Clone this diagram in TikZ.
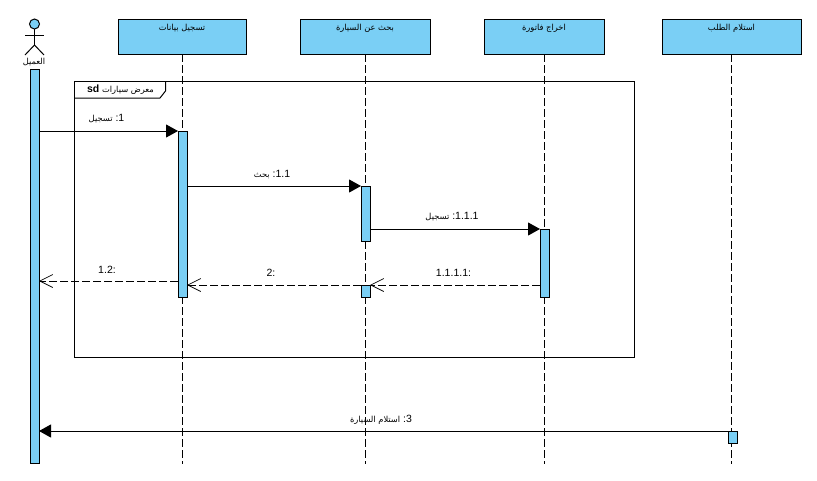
\documentclass[tikz,border=0pt]{standalone}
\usepackage{fontspec}
\usetikzlibrary{arrows.meta}
\setmainfont{Liberation Sans}
\newfontfamily\arabicfont[Script=Arabic]{DejaVu Sans}
\TeXXeTstate=1
\newcommand{\ar}[1]{{\arabicfont\fontsize{8.3}{10}\selectfont\beginR #1\endR}}
\definecolor{lifeblue}{RGB}{122,207,245}
\tikzset{
    headbox/.style={draw, fill=lifeblue, line width=1pt, inner sep=0pt, outer sep=0pt, minimum height=35pt},
    actbar/.style={draw, fill=lifeblue, line width=1pt, inner sep=0pt, outer sep=0pt, minimum width=9pt},
    lifeline/.style={line width=1pt, dash pattern=on 8pt off 3pt},
    callmsg/.style={line width=1pt, -{Triangle[length=12pt,width=13pt]}},
    backmsg/.style={line width=1pt, dash pattern=on 8pt off 3pt, -{Straight Barb[length=13pt,width=13pt,line width=.7pt]}},
    msglabel/.style={font=\fontsize{10.5}{12}\selectfont, inner sep=0pt}
}
\begin{document}
\begin{tikzpicture}[x=1pt, y=-1pt]
    \useasboundingbox (0,0) rectangle (817,480);

    \node [headbox, minimum width=128pt] (headA) at (182, 36.5) {};
    \node [headbox, minimum width=130pt] (headB) at (365, 36.5) {};
    \node [headbox, minimum width=120pt] (headC) at (544, 36.5) {};
    \node [headbox, minimum width=139pt] (headD) at (731.5, 36.5) {};

    \node (textA) at (182, 28) {\ar{تسجيل بيانات}};
    \node (textB) at (365, 28) {\ar{بحث عن السيارة}};
    \node (textC) at (544, 28) {\ar{اخراج فاتورة}};
    \node (textD) at (731.5, 28) {\ar{استلام الطلب}};

    \coordinate (endA) at (182, 464);
    \coordinate (endB) at (365, 464);
    \coordinate (endC) at (544, 464);
    \coordinate (endD) at (731.5, 464);

    \draw [lifeline] (headA.south) -- (endA);
    \draw [lifeline] (headB.south) -- (endB);
    \draw [lifeline] (headC.south) -- (endC);
    \draw [lifeline] (headD.south) -- (endD);

    \draw [line width=1pt, fill=lifeblue] (34.5, 24) circle (5);
    \draw [line width=1pt] (34.5, 29) -- (34.5, 45) (25, 35) -- (44, 35);
    \draw [line width=1pt] (25, 55) -- (34.5, 45) -- (44, 55);
    \node (actorname) at (34, 62) {\ar{العميل}};

    \draw [line width=1pt] (74.5, 81) rectangle (634, 357);
    \draw [line width=1pt] (74.5, 98) -- (160, 98) -- (165.5, 91) -- (165.5, 81);
    \node (frametext) at (120.5, 90) {\textbf{\fontsize{10.5}{12}\selectfont sd} \ar{معرض سيارات}};

    \node [actbar, minimum height=394pt] (barA) at (34.5, 266) {};
    \node [actbar, minimum height=166pt] (barB) at (182.5, 214) {};
    \node [actbar, minimum height=55pt] (barC) at (365.5, 213.5) {};
    \node [actbar, minimum height=12pt] (barE) at (365.5, 291) {};
    \node [actbar, minimum height=68pt] (barD) at (544.5, 263) {};
    \node [actbar, minimum height=12pt] (barF) at (732.5, 437) {};
    \coordinate (backA) at (182.5, 281);

    \draw [callmsg] (barA.east |- barB.north) -- (barB.north west);
    \draw [callmsg] (barB.east |- barC.north) -- (barC.north west);
    \draw [callmsg] (barC.east |- barD.north) -- (barD.north west);
    \draw [backmsg] (barD.west |- barE.north) -- (barE.north east);
    \draw [backmsg] (barE.north west) -- (barB.east |- barE.north);
    \draw [backmsg] (barB.west |- backA) -- (barA.east |- backA);
    \draw [callmsg] (barF.north west) -- (barA.east |- barF.north);

    \node [msglabel] (msgone) at (106.5, 119) {\ar{تسجيل} :1};
    \node [msglabel] (msgtwo) at (272, 174) {\ar{بحث} :1.1};
    \node [msglabel] (msgthree) at (452, 217) {\ar{تسجيل} :1.1.1};
    \node [msglabel] (msgfour) at (453.5, 273) {1.1.1.1:};
    \node [msglabel] (msgfive) at (271, 273) {2:};
    \node [msglabel] (msgsix) at (107, 269.5) {1.2:};
    \node [msglabel] (msgseven) at (381, 419.5) {\ar{استلام السيارة} :3};
\end{tikzpicture}
\end{document}
